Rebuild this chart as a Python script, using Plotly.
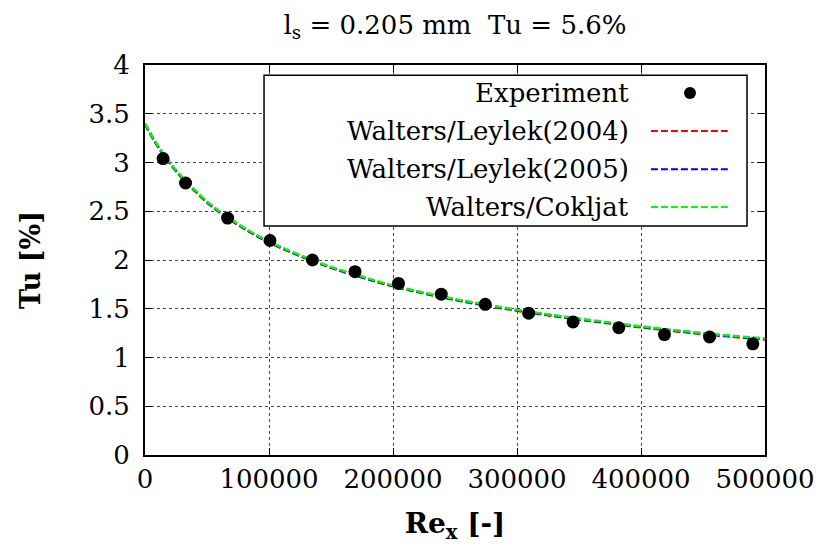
import plotly.graph_objects as go

# Measured turbulence intensity along the plate
re_exp = [14600, 32700, 66600, 100800, 135000, 169400, 204400, 238900,
          274400, 309400, 345200, 382100, 418900, 455300, 490200]
tu_exp = [3.04, 2.79, 2.43, 2.20, 2.00, 1.88, 1.76, 1.65,
          1.545, 1.455, 1.365, 1.305, 1.235, 1.21, 1.14]

# Model predictions (free-stream decay)
re_model = [0, 10000, 20000, 30000, 40000, 50000, 60000, 80000, 100000,
            125000, 150000, 175000, 200000, 250000, 300000, 350000,
            400000, 450000, 500000]
tu_wl2004 = [3.39, 3.17, 2.99, 2.84, 2.71, 2.59, 2.49, 2.32, 2.18,
             2.04, 1.92, 1.82, 1.73, 1.59, 1.48, 1.39, 1.31, 1.24, 1.185]
tu_wl2005 = [3.395, 3.175, 2.995, 2.845, 2.715, 2.595, 2.495, 2.325, 2.185,
             2.045, 1.925, 1.825, 1.735, 1.595, 1.485, 1.395, 1.315, 1.245, 1.19]
tu_wc = [3.40, 3.18, 3.00, 2.85, 2.72, 2.60, 2.50, 2.33, 2.19,
         2.05, 1.93, 1.83, 1.74, 1.60, 1.49, 1.40, 1.32, 1.25, 1.195]

x_ticks = [0, 100000, 200000, 300000, 400000, 500000]
y_ticks = [0, 0.5, 1, 1.5, 2, 2.5, 3, 3.5, 4]

FONT = "DejaVu Serif"
dash = "7px,3px"

fig = go.Figure()
for y, col in [(tu_wl2004, "#ff0000"), (tu_wl2005, "#0000ff"), (tu_wc, "#00ff00")]:
    fig.add_trace(go.Scatter(x=re_model, y=y, mode="lines",
                             line=dict(color=col, width=2.5, dash=dash, shape="spline"),
                             showlegend=False))
fig.add_trace(go.Scatter(x=re_exp, y=tu_exp, mode="markers",
                         marker=dict(color="black", size=13), showlegend=False))

axis_common = dict(showline=True, linecolor="black", linewidth=2, mirror="ticks",
                   ticks="inside", ticklen=7, tickwidth=1, tickcolor="black",
                   showgrid=True, gridcolor="#444444", gridwidth=1, griddash="dot",
                   zeroline=False, automargin=False,
                   tickfont=dict(family=FONT, size=26, color="black"))

fig.update_xaxes(range=[0, 500000], tickvals=x_ticks,
                 ticktext=[str(v) for v in x_ticks],
                 title=dict(text="<b>Re<sub>x</sub> [-]</b>",
                            font=dict(family=FONT, size=28, color="black"), standoff=20),
                 **axis_common)
fig.update_yaxes(range=[0, 4], tickvals=y_ticks,
                 ticktext=[f"{v:g}" for v in y_ticks],
                 ticklabelstandoff=8,
                 title=dict(text="<b>Tu [%]</b>",
                            font=dict(family=FONT, size=27, color="black"), standoff=40),
                 **axis_common)

# Legend box drawn in paper coordinates, labels right-aligned with samples on the right
shapes = [dict(type="rect", xref="paper", yref="paper", x0=0.192, x1=0.971,
               y0=0.587, y1=0.974, line=dict(color="black", width=1.5),
               fillcolor="white", layer="above")]
entries = [("Experiment", None, 0.928),
           ("Walters/Leylek(2004)", "#ff0000", 0.831),
           ("Walters/Leylek(2005)", "#0000ff", 0.733),
           ("Walters/Cokljat", "#00ff00", 0.636)]
annotations = []
for label, col, yy in entries:
    annotations.append(dict(text=label, x=0.784, y=yy, xref="paper", yref="paper",
                            xanchor="right", yanchor="middle", showarrow=False,
                            font=dict(family=FONT, size=26, color="black")))
    if col is None:
        shapes.append(dict(type="circle", xref="paper", yref="paper",
                           xsizemode="pixel", ysizemode="pixel",
                           xanchor=0.879, yanchor=yy, x0=-6, x1=6, y0=-6, y1=6,
                           fillcolor="black", line=dict(color="black", width=0),
                           layer="above"))
    else:
        shapes.append(dict(type="line", xref="paper", yref="paper",
                           x0=0.816, x1=0.940, y0=yy, y1=yy,
                           line=dict(color=col, width=2, dash=dash), layer="above"))

fig.update_layout(
    width=816, height=549,
    margin=dict(l=145, r=51, t=65, b=94),
    paper_bgcolor="white", plot_bgcolor="white",
    font=dict(family=FONT, color="black"),
    title=dict(text="l<sub>s</sub> = 0.205 mm  Tu = 5.6%", x=0.5, xref="paper",
               y=0.955, yanchor="middle",
               font=dict(family=FONT, size=26, color="black")),
    shapes=shapes, annotations=annotations, showlegend=False,
)

fig.write_html("out.html")
